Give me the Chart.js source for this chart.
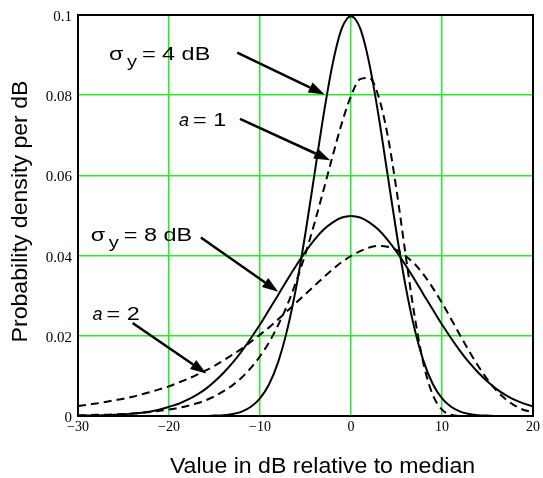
<!DOCTYPE html>
<html>
<head>
<meta charset="utf-8">
<script src="https://cdn.jsdelivr.net/npm/chart.js@4.4.0/dist/chart.umd.min.js"></script>
<style>
  body { margin: 0; background: #fff; }
  canvas { display: block; }
</style>
</head>
<body>
<canvas id="chart" width="543" height="478"></canvas>
<script>
// dB relative to median, 1 dB step
var xValues = [-30, -29, -28, -27, -26, -25, -24, -23, -22, -21,
               -20, -19, -18, -17, -16, -15, -14, -13, -12, -11,
               -10, -9, -8, -7, -6, -5, -4, -3, -2, -1,
               0, 1, 2, 3, 4, 5, 6, 7, 8, 9,
               10, 11, 12, 13, 14, 15, 16, 17, 18, 19, 20];

// lognormal, sigma_y = 4 dB (solid)
var sigma4 = [0, 0, 0, 0, 0, 0, 0, 0, 0, 0,
              0, 0, 0, 0, 0, 0.0001, 0.0002, 0.0005, 0.0011, 0.0023,
              0.0044, 0.0079, 0.0135, 0.0216, 0.0324, 0.0457, 0.0605, 0.0753, 0.0880, 0.0967,
              0.0997, 0.0967, 0.0880, 0.0753, 0.0605, 0.0457, 0.0324, 0.0216, 0.0135, 0.0079,
              0.0044, 0.0023, 0.0011, 0.0005, 0.0002, 0.0001, 0, 0, 0, 0, 0];

// lognormal, sigma_y = 8 dB (solid)
var sigma8 = [0.0000, 0.0001, 0.0001, 0.0002, 0.0003, 0.0004, 0.0006, 0.0008, 0.0011, 0.0016,
              0.0023, 0.0030, 0.0040, 0.0052, 0.0067, 0.0086, 0.0108, 0.0133, 0.0162, 0.0194,
              0.0228, 0.0265, 0.0302, 0.0340, 0.0376, 0.0410, 0.0440, 0.0465, 0.0483, 0.0495,
              0.0499, 0.0495, 0.0483, 0.0465, 0.0440, 0.0410, 0.0376, 0.0340, 0.0302, 0.0265,
              0.0228, 0.0194, 0.0162, 0.0133, 0.0108, 0.0086, 0.0067, 0.0052, 0.0040, 0.0031, 0.0024];

// a = 1 (dashed)
var shapeA1 = [0.0002, 0.0002, 0.0003, 0.0003, 0.0004, 0.0005, 0.0006, 0.0008, 0.0010, 0.0013,
               0.0016, 0.0020, 0.0025, 0.0031, 0.0039, 0.0049, 0.0062, 0.0077, 0.0096, 0.0120,
               0.0149, 0.0184, 0.0227, 0.0277, 0.0337, 0.0405, 0.0482, 0.0565, 0.0650, 0.0731,
               0.0798, 0.0840, 0.0843, 0.0799, 0.0703, 0.0564, 0.0402, 0.0248, 0.0127, 0.0052,
               0.0016, 0.0003, 0, 0, 0, 0, 0, 0, 0, 0, 0];

// a = 2 (dashed)
var shapeA2 = [0.0025, 0.0028, 0.0031, 0.0035, 0.0039, 0.0043, 0.0048, 0.0054, 0.0060, 0.0067,
               0.0074, 0.0083, 0.0092, 0.0102, 0.0113, 0.0125, 0.0139, 0.0153, 0.0168, 0.0185,
               0.0203, 0.0221, 0.0241, 0.0262, 0.0283, 0.0304, 0.0325, 0.0346, 0.0366, 0.0384,
               0.0399, 0.0411, 0.0420, 0.0424, 0.0422, 0.0414, 0.0399, 0.0379, 0.0352, 0.0319,
               0.0282, 0.0242, 0.0201, 0.0161, 0.0124, 0.0091, 0.0063, 0.0042, 0.0026, 0.0015, 0.0010];

var xTickLabels = ['\u221230', '\u221220', '\u221210', '0', '10', '20'];
var yTickLabels = ['0', '0.02', '0.04', '0.06', '0.08', '0.1'];

// curve labels and arrows, in data units
var notes = [
    { kind: 'sigma', value: '4', x: -26.6, y: 0.0887 },
    { kind: 'a', value: '1', x: -18.9, y: 0.0724 },
    { kind: 'sigma', value: '8', x: -28.6, y: 0.0437 },
    { kind: 'a', value: '2', x: -28.4, y: 0.0240 }
];
var arrows = [
    { from: [-12.5, 0.0906], to: [-2.9, 0.0802] },
    { from: [-12.2, 0.0741], to: [-2.3, 0.0638] },
    { from: [-16.5, 0.0445], to: [-8.0, 0.0310] },
    { from: [-24.0, 0.0232], to: [-15.9, 0.0106] }
];

var SANS = '"Liberation Sans", Arial, sans-serif';
var SERIF = '"Liberation Serif", "Times New Roman", serif';

function points(ys) {
    return xValues.map(function (x, i) { return { x: x, y: ys[i] }; });
}

// text drawn a little wider than the font, like the original
function wideText(ctx, text, x, y, sx) {
    ctx.save();
    ctx.translate(x, y);
    ctx.scale(sx, 1);
    ctx.fillText(text, 0, 0);
    var w = ctx.measureText(text).width * sx;
    ctx.restore();
    return w;
}

function drawArrow(ctx, x1, y1, x2, y2) {
    var ang = Math.atan2(y2 - y1, x2 - x1);
    var len = 16, half = 5.5;
    var bx = x2 - len * Math.cos(ang), by = y2 - len * Math.sin(ang);
    ctx.beginPath();
    ctx.moveTo(x1, y1);
    ctx.lineTo(bx, by);
    ctx.stroke();
    ctx.beginPath();
    ctx.moveTo(x2, y2);
    ctx.lineTo(bx + half * Math.sin(ang), by - half * Math.cos(ang));
    ctx.lineTo(bx - half * Math.sin(ang), by + half * Math.cos(ang));
    ctx.closePath();
    ctx.fill();
}

var decorations = {
    id: 'decorations',
    afterDatasetsDraw: function (chart) {
        var ctx = chart.ctx, a = chart.chartArea;
        var xs = chart.scales.x, ys = chart.scales.y;
        ctx.save();
        // frame
        ctx.strokeStyle = '#000';
        ctx.lineWidth = 2;
        ctx.strokeRect(a.left, a.top, a.right - a.left, a.bottom - a.top);

        // arrows
        ctx.lineWidth = 2.5;
        ctx.fillStyle = '#000';
        arrows.forEach(function (ar) {
            drawArrow(ctx, xs.getPixelForValue(ar.from[0]), ys.getPixelForValue(ar.from[1]),
                      xs.getPixelForValue(ar.to[0]), ys.getPixelForValue(ar.to[1]));
        });

        // curve labels
        ctx.textBaseline = 'alphabetic';
        ctx.textAlign = 'left';
        notes.forEach(function (n) {
            var px = xs.getPixelForValue(n.x), py = ys.getPixelForValue(n.y);
            if (n.kind == 'sigma') {
                ctx.font = '18px ' + SANS;
                wideText(ctx, '\u03c3', px, py, 1.3);
                ctx.font = '16px ' + SANS;
                wideText(ctx, 'y', px + 18, py + 7, 1.25);
                ctx.font = '18px ' + SANS;
                wideText(ctx, '= ' + n.value + ' dB', px + 33, py, 1.3);
            } else {
                ctx.font = 'italic 18px ' + SANS;
                wideText(ctx, 'a', px, py, 1.0);
                ctx.font = '18px ' + SANS;
                wideText(ctx, '= ' + n.value, px + 14, py, 1.3);
            }
        });
        ctx.restore();
    },
    afterDraw: function (chart) {
        var ctx = chart.ctx, a = chart.chartArea;
        ctx.save();
        ctx.fillStyle = '#000';
        ctx.font = '22px ' + SANS;
        ctx.textBaseline = 'alphabetic';
        ctx.textAlign = 'left';
        // x title
        var t = 'Value in dB relative to median';
        var w = ctx.measureText(t).width * 1.05;
        wideText(ctx, t, (a.left + a.right) / 2 + 17 - w / 2, 473, 1.05);
        // y title
        t = 'Probability density per dB';
        w = ctx.measureText(t).width * 1.05;
        ctx.translate(27, (a.top + a.bottom) / 2 - 4);
        ctx.rotate(-Math.PI / 2);
        wideText(ctx, t, -w / 2, 0, 1.05);
        ctx.restore();
    }
};

var ctx = document.getElementById('chart').getContext('2d');
var chart = new Chart(ctx, {
    type: 'line',
    data: {
        datasets: [
            { label: 'sigma 4', data: points(sigma4), borderColor: '#000', borderWidth: 2 },
            { label: 'sigma 8', data: points(sigma8), borderColor: '#000', borderWidth: 2 },
            { label: 'a 1', data: points(shapeA1), borderColor: '#000', borderWidth: 2, borderDash: [8, 5] },
            { label: 'a 2', data: points(shapeA2), borderColor: '#000', borderWidth: 2, borderDash: [8, 5] }
        ]
    },
    options: {
        responsive: false,
        animation: false,
        devicePixelRatio: 1,
        layout: { padding: { top: 10, right: 9, left: 0, bottom: 0 } },
        elements: {
            point: { radius: 0 },
            line: { cubicInterpolationMode: 'monotone', fill: false }
        },
        plugins: {
            legend: { display: false },
            tooltip: { enabled: false }
        },
        scales: {
            x: {
                type: 'linear',
                min: -30,
                max: 20,
                afterFit: function (scale) { scale.height = 62; },
                ticks: {
                    stepSize: 10,
                    padding: 3,
                    color: '#000',
                    font: { family: SERIF, size: 14 },
                    maxRotation: 0,
                    callback: function (v, i) { return xTickLabels[i]; }
                },
                grid: { color: '#22ee22', lineWidth: 1.5, drawTicks: false },
                border: { display: false }
            },
            y: {
                min: 0,
                max: 0.1,
                afterFit: function (scale) { scale.width = 78; },
                ticks: {
                    stepSize: 0.02,
                    padding: 6,
                    labelOffset: 2,
                    color: '#000',
                    font: { family: SERIF, size: 15 },
                    callback: function (v, i) { return yTickLabels[i]; }
                },
                grid: { color: '#22ee22', lineWidth: 1.5, drawTicks: false },
                border: { display: false }
            }
        }
    },
    plugins: [decorations]
});
</script>
</body>
</html>
